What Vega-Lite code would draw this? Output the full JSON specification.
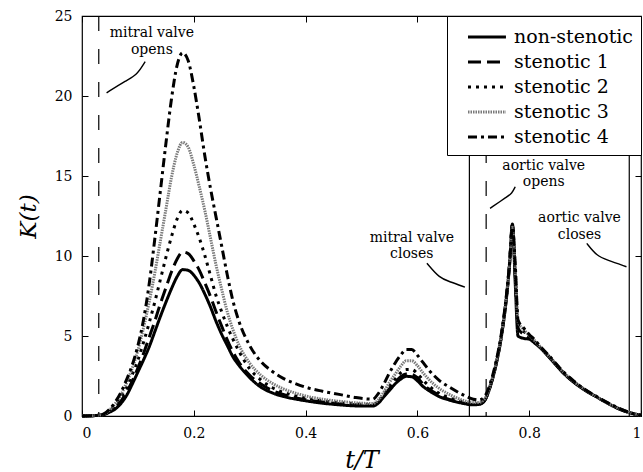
{
  "$schema": "https://vega.github.io/schema/vega-lite/v6.json",
  "width": 559,
  "height": 400,
  "autosize": {"type": "none"},
  "padding": {"left": 82, "top": 16, "right": 2, "bottom": 56},
  "background": "white",
  "config": {
    "view": {"stroke": "black", "strokeWidth": 1.2},
    "font": "DejaVu Serif",
    "text": {"font": "DejaVu Serif"},
    "axis": {
      "domain": false, "grid": false, "tickColor": "black", "tickWidth": 1, "tickSize": -6,
      "labelColor": "black", "labelFont": "DejaVu Serif", "labelFontSize": 14, "labelPadding": 16,
      "titleColor": "black", "titleFont": "DejaVu Serif", "titleFontStyle": "italic", "titleFontWeight": "normal"
    },
    "legend": {
      "orient": "top-right", "offset": 0, "strokeColor": "black", "fillColor": "white",
      "padding": 8, "rowPadding": 2, "labelFont": "DejaVu Serif", "labelFontWeight": "normal", "labelFontSize": 19, "labelColor": "black",
      "symbolType": "M0,0L3.3,0", "symbolSize": 529, "labelOffset": 33, "cornerRadius": 0
    }
  },
  "datasets": {
    "curves": [
      {"t": 0.00, "non-stenotic": 0, "stenotic 1": 0, "stenotic 2": 0, "stenotic 3": 0, "stenotic 4": 0},
      {"t": 0.02, "non-stenotic": 0.02, "stenotic 1": 0.02, "stenotic 2": 0.02, "stenotic 3": 0.02, "stenotic 4": 0.02},
      {"t": 0.03, "non-stenotic": 0.05, "stenotic 1": 0.05, "stenotic 2": 0.05, "stenotic 3": 0.05, "stenotic 4": 0.05},
      {"t": 0.04, "non-stenotic": 0.1, "stenotic 1": 0.11, "stenotic 2": 0.12, "stenotic 3": 0.13, "stenotic 4": 0.15},
      {"t": 0.05, "non-stenotic": 0.25, "stenotic 1": 0.3, "stenotic 2": 0.35, "stenotic 3": 0.4, "stenotic 4": 0.45},
      {"t": 0.06, "non-stenotic": 0.45, "stenotic 1": 0.55, "stenotic 2": 0.7, "stenotic 3": 0.8, "stenotic 4": 0.9},
      {"t": 0.07, "non-stenotic": 0.8, "stenotic 1": 0.95, "stenotic 2": 1.2, "stenotic 3": 1.35, "stenotic 4": 1.5},
      {"t": 0.08, "non-stenotic": 1.3, "stenotic 1": 1.5, "stenotic 2": 1.8, "stenotic 3": 2.1, "stenotic 4": 2.3},
      {"t": 0.09, "non-stenotic": 2.0, "stenotic 1": 2.2, "stenotic 2": 2.6, "stenotic 3": 3.0, "stenotic 4": 3.2},
      {"t": 0.10, "non-stenotic": 2.75, "stenotic 1": 3.0, "stenotic 2": 3.5, "stenotic 3": 4.1, "stenotic 4": 4.4},
      {"t": 0.11, "non-stenotic": 3.5, "stenotic 1": 3.9, "stenotic 2": 4.6, "stenotic 3": 5.5, "stenotic 4": 6.0},
      {"t": 0.12, "non-stenotic": 4.3, "stenotic 1": 4.9, "stenotic 2": 5.8, "stenotic 3": 7.1, "stenotic 4": 8.2},
      {"t": 0.13, "non-stenotic": 5.25, "stenotic 1": 5.9, "stenotic 2": 7.1, "stenotic 3": 8.9, "stenotic 4": 11.0},
      {"t": 0.14, "non-stenotic": 6.2, "stenotic 1": 7.0, "stenotic 2": 8.5, "stenotic 3": 10.9, "stenotic 4": 14.0},
      {"t": 0.15, "non-stenotic": 7.1, "stenotic 1": 8.0, "stenotic 2": 9.9, "stenotic 3": 12.9, "stenotic 4": 17.0},
      {"t": 0.16, "non-stenotic": 7.95, "stenotic 1": 9.0, "stenotic 2": 11.2, "stenotic 3": 14.9, "stenotic 4": 19.8},
      {"t": 0.17, "non-stenotic": 8.7, "stenotic 1": 9.8, "stenotic 2": 12.3, "stenotic 3": 16.4, "stenotic 4": 21.9},
      {"t": 0.18, "non-stenotic": 9.15, "stenotic 1": 10.25, "stenotic 2": 12.85, "stenotic 3": 17.1, "stenotic 4": 22.7},
      {"t": 0.19, "non-stenotic": 9.1, "stenotic 1": 10.15, "stenotic 2": 12.7, "stenotic 3": 16.8, "stenotic 4": 22.2},
      {"t": 0.20, "non-stenotic": 8.8, "stenotic 1": 9.7, "stenotic 2": 12.0, "stenotic 3": 15.7, "stenotic 4": 20.6},
      {"t": 0.21, "non-stenotic": 8.3, "stenotic 1": 9.1, "stenotic 2": 11.1, "stenotic 3": 14.3, "stenotic 4": 18.5},
      {"t": 0.22, "non-stenotic": 7.6, "stenotic 1": 8.3, "stenotic 2": 10.0, "stenotic 3": 12.8, "stenotic 4": 16.2},
      {"t": 0.23, "non-stenotic": 6.8, "stenotic 1": 7.45, "stenotic 2": 8.75, "stenotic 3": 11.1, "stenotic 4": 14.2},
      {"t": 0.24, "non-stenotic": 5.9, "stenotic 1": 6.5, "stenotic 2": 7.5, "stenotic 3": 9.4, "stenotic 4": 12.4},
      {"t": 0.25, "non-stenotic": 5.1, "stenotic 1": 5.6, "stenotic 2": 6.5, "stenotic 3": 7.9, "stenotic 4": 10.6},
      {"t": 0.26, "non-stenotic": 4.4, "stenotic 1": 4.75, "stenotic 2": 5.6, "stenotic 3": 6.5, "stenotic 4": 8.8},
      {"t": 0.27, "non-stenotic": 3.7, "stenotic 1": 4.0, "stenotic 2": 4.8, "stenotic 3": 5.4, "stenotic 4": 7.2},
      {"t": 0.28, "non-stenotic": 3.2, "stenotic 1": 3.4, "stenotic 2": 4.1, "stenotic 3": 4.5, "stenotic 4": 6.0},
      {"t": 0.30, "non-stenotic": 2.4, "stenotic 1": 2.55, "stenotic 2": 2.95, "stenotic 3": 3.3, "stenotic 4": 4.4},
      {"t": 0.32, "non-stenotic": 1.8, "stenotic 1": 2.0, "stenotic 2": 2.25, "stenotic 3": 2.55, "stenotic 4": 3.4},
      {"t": 0.34, "non-stenotic": 1.45, "stenotic 1": 1.6, "stenotic 2": 1.78, "stenotic 3": 2.05, "stenotic 4": 2.8},
      {"t": 0.36, "non-stenotic": 1.22, "stenotic 1": 1.35, "stenotic 2": 1.48, "stenotic 3": 1.7, "stenotic 4": 2.35},
      {"t": 0.38, "non-stenotic": 1.07, "stenotic 1": 1.15, "stenotic 2": 1.27, "stenotic 3": 1.45, "stenotic 4": 2.05},
      {"t": 0.40, "non-stenotic": 0.95, "stenotic 1": 1.02, "stenotic 2": 1.12, "stenotic 3": 1.25, "stenotic 4": 1.8},
      {"t": 0.43, "non-stenotic": 0.8, "stenotic 1": 0.88, "stenotic 2": 0.95, "stenotic 3": 1.05, "stenotic 4": 1.55},
      {"t": 0.46, "non-stenotic": 0.7, "stenotic 1": 0.77, "stenotic 2": 0.83, "stenotic 3": 0.92, "stenotic 4": 1.35},
      {"t": 0.49, "non-stenotic": 0.63, "stenotic 1": 0.7, "stenotic 2": 0.75, "stenotic 3": 0.82, "stenotic 4": 1.15},
      {"t": 0.52, "non-stenotic": 0.62, "stenotic 1": 0.66, "stenotic 2": 0.7, "stenotic 3": 0.78, "stenotic 4": 1.05},
      {"t": 0.53, "non-stenotic": 0.8, "stenotic 1": 0.85, "stenotic 2": 0.9, "stenotic 3": 1.0, "stenotic 4": 1.4},
      {"t": 0.54, "non-stenotic": 1.2, "stenotic 1": 1.25, "stenotic 2": 1.35, "stenotic 3": 1.5, "stenotic 4": 2.0},
      {"t": 0.55, "non-stenotic": 1.6, "stenotic 1": 1.7, "stenotic 2": 1.85, "stenotic 3": 2.1, "stenotic 4": 2.7},
      {"t": 0.56, "non-stenotic": 2.0, "stenotic 1": 2.1, "stenotic 2": 2.3, "stenotic 3": 2.6, "stenotic 4": 3.3},
      {"t": 0.57, "non-stenotic": 2.3, "stenotic 1": 2.45, "stenotic 2": 2.7, "stenotic 3": 3.1, "stenotic 4": 3.8},
      {"t": 0.58, "non-stenotic": 2.48, "stenotic 1": 2.62, "stenotic 2": 2.9, "stenotic 3": 3.45, "stenotic 4": 4.15},
      {"t": 0.59, "non-stenotic": 2.45, "stenotic 1": 2.6, "stenotic 2": 2.9, "stenotic 3": 3.45, "stenotic 4": 4.15},
      {"t": 0.60, "non-stenotic": 2.2, "stenotic 1": 2.4, "stenotic 2": 2.65, "stenotic 3": 3.15, "stenotic 4": 3.8},
      {"t": 0.61, "non-stenotic": 1.85, "stenotic 1": 2.0, "stenotic 2": 2.25, "stenotic 3": 2.7, "stenotic 4": 3.35},
      {"t": 0.62, "non-stenotic": 1.6, "stenotic 1": 1.7, "stenotic 2": 1.9, "stenotic 3": 2.3, "stenotic 4": 2.9},
      {"t": 0.64, "non-stenotic": 1.2, "stenotic 1": 1.28, "stenotic 2": 1.4, "stenotic 3": 1.7, "stenotic 4": 2.2},
      {"t": 0.66, "non-stenotic": 0.97, "stenotic 1": 1.0, "stenotic 2": 1.1, "stenotic 3": 1.3, "stenotic 4": 1.75},
      {"t": 0.68, "non-stenotic": 0.8, "stenotic 1": 0.83, "stenotic 2": 0.9, "stenotic 3": 1.0, "stenotic 4": 1.35},
      {"t": 0.70, "non-stenotic": 0.7, "stenotic 1": 0.72, "stenotic 2": 0.75, "stenotic 3": 0.85, "stenotic 4": 1.05},
      {"t": 0.71, "non-stenotic": 0.72, "stenotic 1": 0.74, "stenotic 2": 0.78, "stenotic 3": 0.85, "stenotic 4": 1.0},
      {"t": 0.72, "non-stenotic": 0.95, "stenotic 1": 0.95, "stenotic 2": 0.98, "stenotic 3": 1.05, "stenotic 4": 1.2},
      {"t": 0.73, "non-stenotic": 1.8, "stenotic 1": 1.82, "stenotic 2": 1.85, "stenotic 3": 1.9, "stenotic 4": 2.0},
      {"t": 0.74, "non-stenotic": 3.1, "stenotic 1": 3.12, "stenotic 2": 3.15, "stenotic 3": 3.2, "stenotic 4": 3.3},
      {"t": 0.75, "non-stenotic": 4.9, "stenotic 1": 4.95, "stenotic 2": 5.0, "stenotic 3": 5.05, "stenotic 4": 5.1},
      {"t": 0.76, "non-stenotic": 7.6, "stenotic 1": 7.65, "stenotic 2": 7.7, "stenotic 3": 7.75, "stenotic 4": 7.8},
      {"t": 0.765, "non-stenotic": 9.5, "stenotic 1": 9.55, "stenotic 2": 9.6, "stenotic 3": 9.6, "stenotic 4": 9.6},
      {"t": 0.77, "non-stenotic": 12.0, "stenotic 1": 12.05, "stenotic 2": 11.9, "stenotic 3": 11.8, "stenotic 4": 11.8},
      {"t": 0.775, "non-stenotic": 8.3, "stenotic 1": 8.8, "stenotic 2": 9.0, "stenotic 3": 9.2, "stenotic 4": 9.5},
      {"t": 0.78, "non-stenotic": 5.0, "stenotic 1": 5.5, "stenotic 2": 5.7, "stenotic 3": 5.9, "stenotic 4": 6.0},
      {"t": 0.79, "non-stenotic": 4.85, "stenotic 1": 5.1, "stenotic 2": 5.3, "stenotic 3": 5.4, "stenotic 4": 5.5},
      {"t": 0.80, "non-stenotic": 4.8, "stenotic 1": 4.9, "stenotic 2": 5.0, "stenotic 3": 5.05, "stenotic 4": 5.1},
      {"t": 0.81, "non-stenotic": 4.55, "stenotic 1": 4.6, "stenotic 2": 4.65, "stenotic 3": 4.7, "stenotic 4": 4.75},
      {"t": 0.82, "non-stenotic": 4.25, "stenotic 1": 4.28, "stenotic 2": 4.3, "stenotic 3": 4.32, "stenotic 4": 4.35},
      {"t": 0.84, "non-stenotic": 3.5, "stenotic 1": 3.52, "stenotic 2": 3.55, "stenotic 3": 3.57, "stenotic 4": 3.6},
      {"t": 0.86, "non-stenotic": 2.72, "stenotic 1": 2.74, "stenotic 2": 2.76, "stenotic 3": 2.78, "stenotic 4": 2.8},
      {"t": 0.88, "non-stenotic": 2.1, "stenotic 1": 2.12, "stenotic 2": 2.14, "stenotic 3": 2.16, "stenotic 4": 2.18},
      {"t": 0.90, "non-stenotic": 1.6, "stenotic 1": 1.62, "stenotic 2": 1.63, "stenotic 3": 1.64, "stenotic 4": 1.65},
      {"t": 0.92, "non-stenotic": 1.2, "stenotic 1": 1.2, "stenotic 2": 1.21, "stenotic 3": 1.22, "stenotic 4": 1.23},
      {"t": 0.94, "non-stenotic": 0.8, "stenotic 1": 0.81, "stenotic 2": 0.82, "stenotic 3": 0.83, "stenotic 4": 0.84},
      {"t": 0.96, "non-stenotic": 0.45, "stenotic 1": 0.46, "stenotic 2": 0.47, "stenotic 3": 0.48, "stenotic 4": 0.5},
      {"t": 0.98, "non-stenotic": 0.2, "stenotic 1": 0.2, "stenotic 2": 0.21, "stenotic 3": 0.22, "stenotic 4": 0.22},
      {"t": 1.00, "non-stenotic": 0.05, "stenotic 1": 0.05, "stenotic 2": 0.05, "stenotic 3": 0.05, "stenotic 4": 0.05}
    ],
    "leaders": [
      {"g": "mo", "t": 0.044, "k": 20.2}, {"g": "mo", "t": 0.080, "k": 21.0}, {"g": "mo", "t": 0.098, "k": 21.3}, {"g": "mo", "t": 0.113, "k": 22.15},
      {"g": "mc", "t": 0.617, "k": 9.55}, {"g": "mc", "t": 0.640, "k": 8.6}, {"g": "mc", "t": 0.658, "k": 8.4}, {"g": "mc", "t": 0.685, "k": 8.05},
      {"g": "ao", "t": 0.730, "k": 12.98}, {"g": "ao", "t": 0.760, "k": 13.7}, {"g": "ao", "t": 0.769, "k": 13.9}, {"g": "ao", "t": 0.775, "k": 14.33},
      {"g": "ac", "t": 0.903, "k": 10.79}, {"g": "ac", "t": 0.921, "k": 10.0}, {"g": "ac", "t": 0.939, "k": 9.75}, {"g": "ac", "t": 0.974, "k": 9.33}
    ],
    "notes": [
      {"label": "mitral valve", "t": 0.125, "k": 23.95},
      {"label": "opens", "t": 0.125, "k": 22.9},
      {"label": "mitral valve", "t": 0.59, "k": 11.15},
      {"label": "closes", "t": 0.59, "k": 10.1},
      {"label": "aortic valve", "t": 0.826, "k": 15.65},
      {"label": "opens", "t": 0.826, "k": 14.6},
      {"label": "aortic valve", "t": 0.89, "k": 12.35},
      {"label": "closes", "t": 0.89, "k": 11.3}
    ]
  },
  "layer": [
    {
      "data": {"values": [{"t": 0.03}, {"t": 0.723}]},
      "mark": {"type": "rule", "color": "black", "strokeWidth": 1.2, "strokeDash": [15, 18]},
      "encoding": {"x": {"field": "t", "type": "quantitative", "scale": {"domain": [0, 1]}, "axis": null}}
    },
    {
      "data": {"values": [{"t": 0.693}, {"t": 0.979}]},
      "mark": {"type": "rule", "color": "black", "strokeWidth": 1.2},
      "encoding": {"x": {"field": "t", "type": "quantitative", "axis": null}}
    },
    {
      "data": {"name": "curves"},
      "transform": [{"fold": ["non-stenotic", "stenotic 1", "stenotic 2", "stenotic 3", "stenotic 4"], "as": ["series", "K"]}],
      "mark": {"type": "line", "interpolate": "monotone"},
      "encoding": {
        "x": {"field": "t", "type": "quantitative", "scale": {"domain": [0, 1], "nice": false},
          "axis": {"orient": "bottom", "values": [0, 0.2, 0.4, 0.6, 0.8, 1], "format": "~g", "title": "t/T",
            "titleFontSize": 24, "titleX": 279.5, "titleY": 44, "titleBaseline": "middle", "titleAlign": "center"}},
        "y": {"field": "K", "type": "quantitative", "scale": {"domain": [0, 25], "nice": false},
          "axis": {"orient": "left", "values": [0, 5, 10, 15, 20, 25], "title": "K(t)",
            "titleFontSize": 23, "titleX": -54, "titleY": 200, "titleBaseline": "middle", "titleAlign": "center", "titleAngle": -90}},
        "color": {"field": "series", "type": "nominal",
          "scale": {"domain": ["non-stenotic", "stenotic 1", "stenotic 2", "stenotic 3", "stenotic 4"], "range": ["black", "black", "black", "#7a7a7a", "black"]},
          "legend": {"title": null, "labelFont": "DejaVu Serif", "labelFontWeight": "normal"}},
        "strokeDash": {"field": "series", "type": "nominal",
          "scale": {"domain": ["non-stenotic", "stenotic 1", "stenotic 2", "stenotic 3", "stenotic 4"], "range": [[1, 0], [13, 6], [3, 5], [1.5, 1], [9, 4, 3, 4]]},
          "legend": {"title": null, "labelFont": "DejaVu Serif", "labelFontWeight": "normal"}},
        "strokeWidth": {"field": "series", "type": "nominal",
          "scale": {"domain": ["non-stenotic", "stenotic 1", "stenotic 2", "stenotic 3", "stenotic 4"], "range": [3, 3, 3, 2.5, 3]},
          "legend": {"title": null, "labelFont": "DejaVu Serif", "labelFontWeight": "normal"}}
      }
    },
    {
      "data": {"name": "leaders"},
      "mark": {"type": "line", "interpolate": "basis", "color": "black", "strokeWidth": 1.4},
      "encoding": {
        "x": {"field": "t", "type": "quantitative", "axis": null},
        "y": {"field": "k", "type": "quantitative", "axis": null},
        "detail": {"field": "g", "type": "nominal"}
      }
    },
    {
      "data": {"name": "notes"},
      "mark": {"type": "text", "font": "DejaVu Serif", "fontSize": 14, "color": "black", "align": "center", "baseline": "middle"},
      "encoding": {
        "x": {"field": "t", "type": "quantitative",
          "axis": {"orient": "top", "values": [0, 0.2, 0.4, 0.6, 0.8, 1], "labels": false, "title": null}},
        "y": {"field": "k", "type": "quantitative",
          "axis": {"orient": "right", "values": [0, 5, 10, 15, 20, 25], "labels": false, "title": null}},
        "text": {"field": "label", "type": "nominal"}
      }
    }
  ],
  "resolve": {"axis": {"x": "independent", "y": "independent"}}
}
